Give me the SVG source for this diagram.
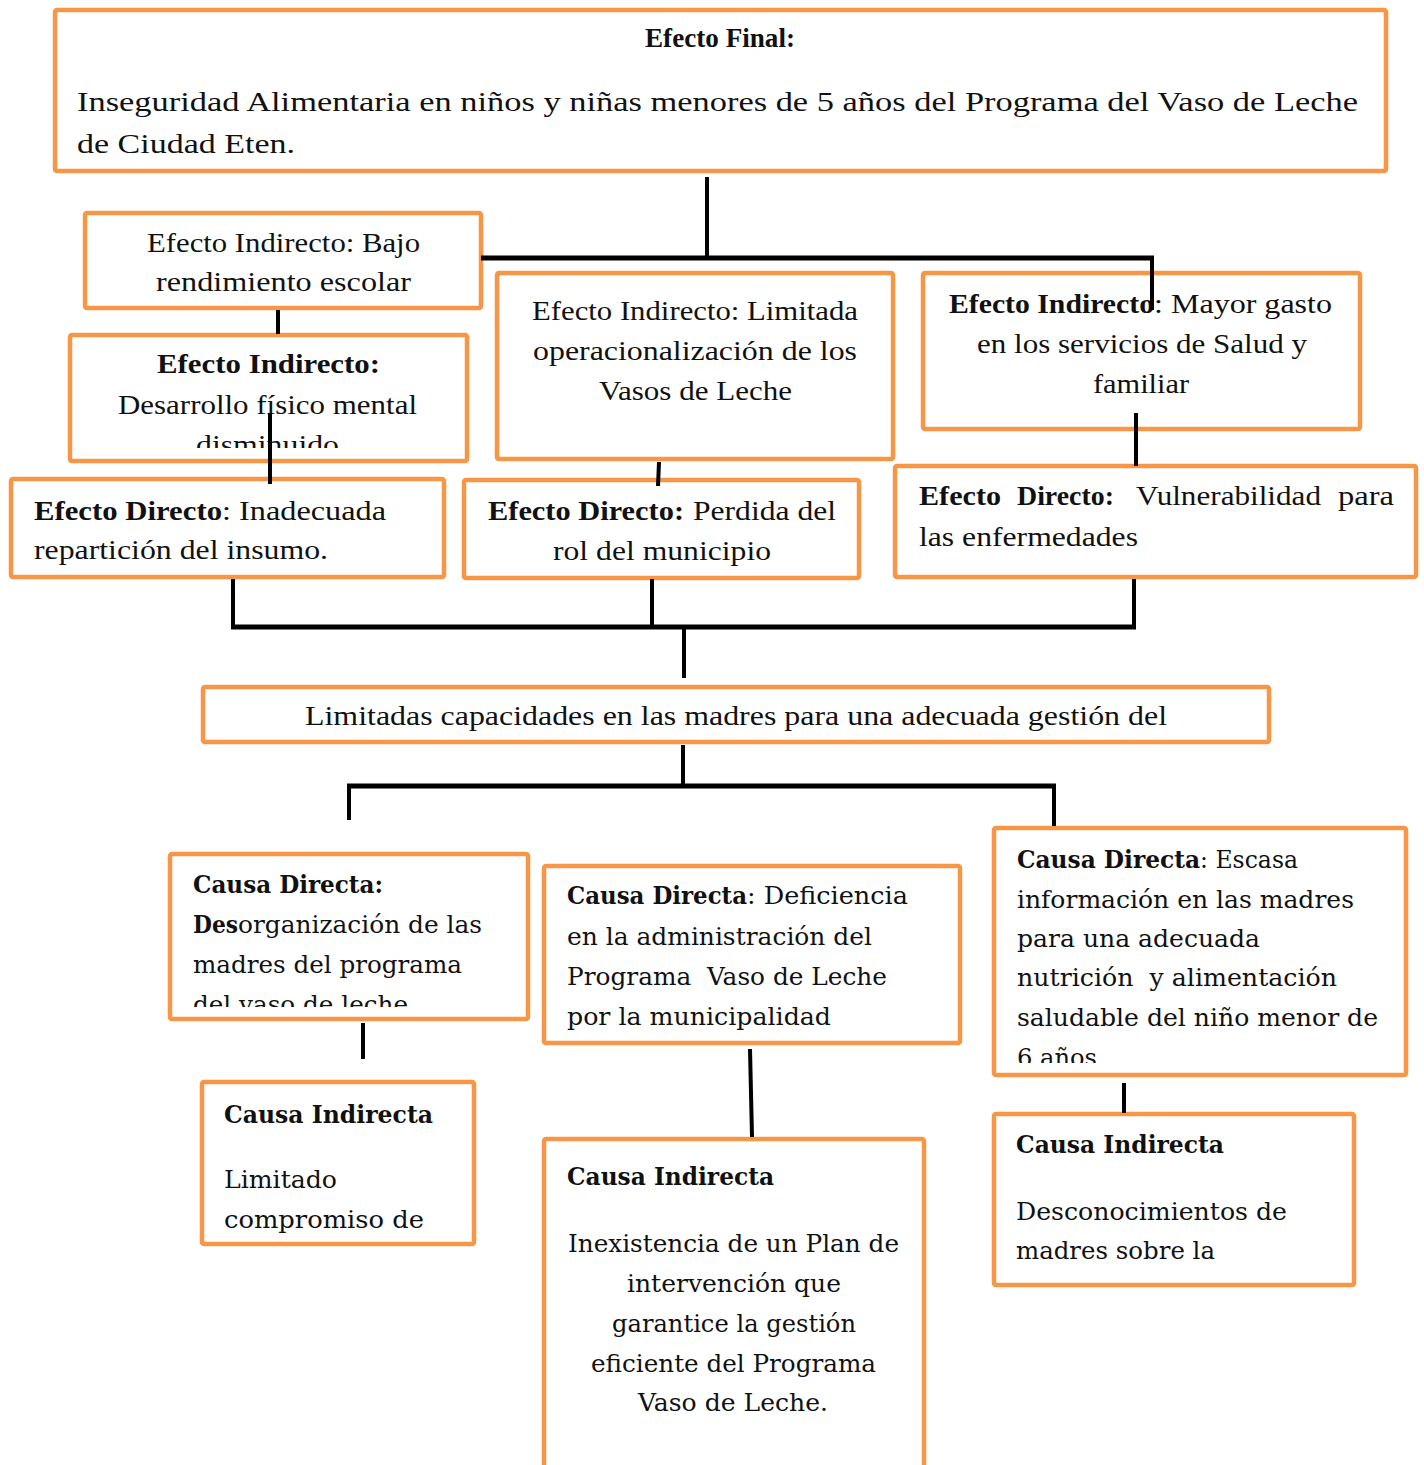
<svg xmlns="http://www.w3.org/2000/svg" width="1424" height="1465" viewBox="0 0 1424 1465">
<style>
.box{fill:#fff;stroke:#F79646;stroke-width:4.5}
.t{font-family:"Liberation Serif","Times New Roman",serif;font-size:28px;fill:#111}
.tb{font-family:"Liberation Serif","Times New Roman",serif;font-size:28px;font-weight:bold;fill:#111}
.d{font-family:"DejaVu Serif",serif;font-size:25px;fill:#111}
.db{font-family:"DejaVu Serif",serif;font-size:25px;font-weight:bold;fill:#111}
.c{stroke:#000;stroke-width:4;fill:none}
.ch{stroke:#000;stroke-width:5;fill:none}
</style>
<defs>
<clipPath id="clipDes"><rect x="60" y="330" width="420" height="118"/></clipPath>
<clipPath id="clipDesorg"><rect x="165" y="850" width="370" height="157"/></clipPath>
<clipPath id="clipEsc"><rect x="990" y="820" width="420" height="243"/></clipPath>
</defs>
<rect width="1424" height="1465" fill="#fff"/>

<g id="efecto-final">
<rect class="box" x="55" y="10" width="1331" height="161" rx="2"/>
<text class="tb" x="645" y="47" font-size="25" textLength="150" lengthAdjust="spacingAndGlyphs">Efecto Final:</text>
<text class="t" x="77" y="111" font-size="31" textLength="1281" lengthAdjust="spacingAndGlyphs">Inseguridad Alimentaria en niños y niñas menores de 5 años del Programa del Vaso de Leche</text>
<text class="t" x="77" y="153" font-size="31" textLength="218" lengthAdjust="spacingAndGlyphs">de Ciudad Eten.</text>
</g>

<g id="ei-bajo">
<rect class="box" x="85" y="213" width="396" height="95" rx="2"/>
<text class="t" x="147" y="252" textLength="273" lengthAdjust="spacingAndGlyphs">Efecto Indirecto: Bajo</text>
<text class="t" x="156" y="291" textLength="255" lengthAdjust="spacingAndGlyphs">rendimiento escolar</text>
</g>

<g id="ei-desarrollo">
<rect class="box" x="70" y="335" width="397" height="126" rx="2"/>
<g clip-path="url(#clipDes)">
<text class="tb" x="157" y="373" textLength="223" lengthAdjust="spacingAndGlyphs">Efecto Indirecto:</text>
<text class="t" x="118" y="414" textLength="299" lengthAdjust="spacingAndGlyphs">Desarrollo físico mental</text>
<text class="t" x="196" y="454" textLength="143" lengthAdjust="spacingAndGlyphs">disminuido</text>
</g>
</g>

<g id="ei-limitada">
<rect class="box" x="497" y="273" width="396" height="186" rx="2"/>
<text class="t" x="532" y="320" textLength="326" lengthAdjust="spacingAndGlyphs">Efecto Indirecto: Limitada</text>
<text class="t" x="533" y="360" textLength="324" lengthAdjust="spacingAndGlyphs">operacionalización de los</text>
<text class="t" x="599" y="400" textLength="193" lengthAdjust="spacingAndGlyphs">Vasos de Leche</text>
</g>

<g id="ei-mayor">
<rect class="box" x="923" y="273" width="437" height="156" rx="2"/>
<text y="313"><tspan class="tb" x="949" textLength="205" lengthAdjust="spacingAndGlyphs">Efecto Indirecto</tspan><tspan class="t" x="1154" textLength="178" lengthAdjust="spacingAndGlyphs">: Mayor gasto</tspan></text>
<text class="t" x="977" y="353" textLength="330" lengthAdjust="spacingAndGlyphs">en los servicios de Salud y</text>
<text class="t" x="1093" y="393" textLength="96" lengthAdjust="spacingAndGlyphs">familiar</text>
</g>

<g id="ed-inadecuada">
<rect class="box" x="11" y="479" width="433" height="98" rx="2"/>
<text y="520"><tspan class="tb" x="34" textLength="188" lengthAdjust="spacingAndGlyphs">Efecto Directo</tspan><tspan class="t" x="222" textLength="164" lengthAdjust="spacingAndGlyphs">: Inadecuada</tspan></text>
<text class="t" x="34" y="559" textLength="294" lengthAdjust="spacingAndGlyphs">repartición del insumo.</text>
</g>

<g id="ed-perdida">
<rect class="box" x="464" y="480" width="395" height="98" rx="2"/>
<text y="520"><tspan class="tb" x="488" textLength="196" lengthAdjust="spacingAndGlyphs">Efecto Directo:</tspan><tspan class="t" x="693" textLength="143" lengthAdjust="spacingAndGlyphs">Perdida del</tspan></text>
<text class="t" x="553" y="560" textLength="218" lengthAdjust="spacingAndGlyphs">rol del municipio</text>
</g>

<g id="ed-vulnerabilidad">
<rect class="box" x="895" y="466" width="521" height="111" rx="2"/>
<text y="505"><tspan class="tb" x="919" textLength="82" lengthAdjust="spacingAndGlyphs">Efecto</tspan><tspan class="tb" x="1017" textLength="97" lengthAdjust="spacingAndGlyphs">Directo:</tspan><tspan class="t" x="1136" textLength="185" lengthAdjust="spacingAndGlyphs">Vulnerabilidad</tspan><tspan class="t" x="1338" textLength="56" lengthAdjust="spacingAndGlyphs">para</tspan></text>
<text class="t" x="919" y="546" textLength="219" lengthAdjust="spacingAndGlyphs">las enfermedades</text>
</g>

<g id="problema-central">
<rect class="box" x="203" y="687" width="1066" height="55" rx="2"/>
<text class="t" x="305" y="725" textLength="862" lengthAdjust="spacingAndGlyphs">Limitadas capacidades en las madres para una adecuada gestión del</text>
</g>

<g id="cd-desorganizacion">
<rect class="box" x="170" y="854" width="358" height="165" rx="2"/>
<g clip-path="url(#clipDesorg)">
<text class="db" x="193" y="893" textLength="190" lengthAdjust="spacingAndGlyphs">Causa Directa:</text>
<text y="933"><tspan class="db" x="193" textLength="45" lengthAdjust="spacingAndGlyphs">Des</tspan><tspan class="d" x="238" textLength="244" lengthAdjust="spacingAndGlyphs">organización de las</tspan></text>
<text class="d" x="193" y="973" textLength="269" lengthAdjust="spacingAndGlyphs">madres del programa</text>
<text class="d" x="193" y="1013" textLength="215" lengthAdjust="spacingAndGlyphs">del vaso de leche</text>
</g>
</g>

<g id="ci-limitado">
<rect class="box" x="202" y="1082" width="272" height="162" rx="2"/>
<text class="db" x="224" y="1123" textLength="209" lengthAdjust="spacingAndGlyphs">Causa Indirecta</text>
<text class="d" x="224" y="1188" textLength="113" lengthAdjust="spacingAndGlyphs">Limitado</text>
<text class="d" x="224" y="1228" textLength="200" lengthAdjust="spacingAndGlyphs">compromiso de</text>
</g>

<g id="cd-deficiencia">
<rect class="box" x="544" y="866" width="416" height="177" rx="2"/>
<text y="904"><tspan class="db" x="567" textLength="180" lengthAdjust="spacingAndGlyphs">Causa Directa</tspan><tspan class="d" x="747" textLength="161" lengthAdjust="spacingAndGlyphs">: Deficiencia</tspan></text>
<text class="d" x="567" y="945" textLength="305" lengthAdjust="spacingAndGlyphs">en la administración del</text>
<text class="d" x="567" y="985" textLength="320" lengthAdjust="spacingAndGlyphs" xml:space="preserve">Programa  Vaso de Leche</text>
<text class="d" x="567" y="1025" textLength="264" lengthAdjust="spacingAndGlyphs">por la municipalidad</text>
</g>

<g id="ci-inexistencia">
<rect class="box" x="544" y="1139" width="380" height="340" rx="2"/>
<text class="db" x="567" y="1185" textLength="207" lengthAdjust="spacingAndGlyphs">Causa Indirecta</text>
<text class="d" x="568" y="1252" textLength="331" lengthAdjust="spacingAndGlyphs">Inexistencia de un Plan de</text>
<text class="d" x="627" y="1292" textLength="214" lengthAdjust="spacingAndGlyphs">intervención que</text>
<text class="d" x="612" y="1332" textLength="244" lengthAdjust="spacingAndGlyphs">garantice la gestión</text>
<text class="d" x="591" y="1372" textLength="285" lengthAdjust="spacingAndGlyphs">eficiente del Programa</text>
<text class="d" x="638" y="1411" textLength="190" lengthAdjust="spacingAndGlyphs">Vaso de Leche.</text>
</g>

<g id="cd-escasa">
<rect class="box" x="994" y="828" width="412" height="247" rx="2"/>
<g clip-path="url(#clipEsc)">
<text y="868"><tspan class="db" x="1017" textLength="183" lengthAdjust="spacingAndGlyphs">Causa Directa</tspan><tspan class="d" x="1200" textLength="98" lengthAdjust="spacingAndGlyphs">: Escasa</tspan></text>
<text class="d" x="1017" y="908" textLength="337" lengthAdjust="spacingAndGlyphs">información en las madres</text>
<text class="d" x="1017" y="947" textLength="243" lengthAdjust="spacingAndGlyphs">para una adecuada</text>
<text class="d" x="1017" y="986" textLength="320" lengthAdjust="spacingAndGlyphs" xml:space="preserve">nutrición  y alimentación</text>
<text class="d" x="1017" y="1026" textLength="361" lengthAdjust="spacingAndGlyphs">saludable del niño menor de</text>
<text class="d" x="1017" y="1066" textLength="80" lengthAdjust="spacingAndGlyphs">6 años</text>
</g>
</g>

<g id="ci-desconocimientos">
<rect class="box" x="994" y="1114" width="360" height="171" rx="2"/>
<text class="db" x="1016" y="1153" textLength="208" lengthAdjust="spacingAndGlyphs">Causa Indirecta</text>
<text class="d" x="1016" y="1220" textLength="271" lengthAdjust="spacingAndGlyphs">Desconocimientos de</text>
<text class="d" x="1016" y="1259" textLength="199" lengthAdjust="spacingAndGlyphs">madres sobre la</text>
</g>

<g id="connectors">
<line class="c" x1="707" y1="177" x2="707" y2="258"/>
<line class="ch" x1="481" y1="258" x2="1154" y2="258"/>
<line class="c" x1="1152" y1="258" x2="1152" y2="310"/>
<line class="c" x1="278" y1="310" x2="278" y2="334"/>
<line class="c" x1="270" y1="413" x2="270" y2="484"/>
<line class="c" x1="659" y1="462" x2="658" y2="486"/>
<line class="c" x1="1136" y1="413" x2="1136" y2="466"/>
<line class="c" x1="233" y1="579" x2="233" y2="627"/>
<line class="c" x1="652" y1="579" x2="652" y2="627"/>
<line class="c" x1="1134" y1="579" x2="1134" y2="627"/>
<line class="ch" x1="231" y1="627" x2="1136" y2="627"/>
<line class="c" x1="684" y1="627" x2="684" y2="678"/>
<line class="c" x1="683" y1="745" x2="683" y2="786"/>
<line class="ch" x1="347" y1="786" x2="1056" y2="786"/>
<line class="c" x1="349" y1="786" x2="349" y2="820"/>
<line class="c" x1="1054" y1="786" x2="1054" y2="826"/>
<line class="c" x1="363" y1="1023" x2="363" y2="1059"/>
<line class="c" x1="750" y1="1049" x2="752" y2="1137"/>
<line class="c" x1="1124" y1="1083" x2="1124" y2="1113"/>
</g>
</svg>
